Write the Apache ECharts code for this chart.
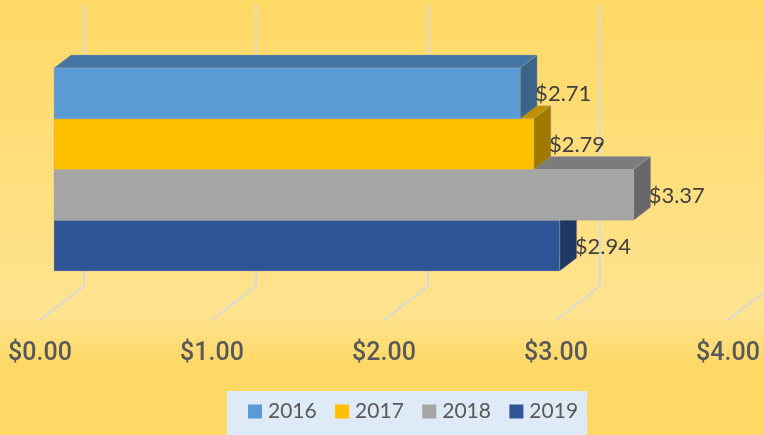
<!DOCTYPE html>
<html>
<head>
<meta charset="utf-8">
<style>
  html, body { margin: 0; padding: 0; }
  #chart { width: 764px; height: 435px; }
</style>
<script src="https://cdn.jsdelivr.net/npm/echarts@6/dist/echarts.min.js"></script>
</head>
<body>
<div id="chart"></div>
<script>
const years = ["2016", "2017", "2018", "2019"];
const values = [2.71, 2.79, 3.37, 2.94];
const ticks = [0, 1, 2, 3, 4];
const faceColors = ["#5B9BD5", "#FFC000", "#A5A5A5", "#2F5597"];
const topColors = ["#4475A3", "#BF9000", "#7C7C7C", "#274571"];
const sideColors = ["#3A6488", "#A07A00", "#686868", "#1F3864"];

// the grid is the floor's front edge, bars and walls sit further back
const barShift = 14;
const depthX = 17;
const depthY = 13;
const wallShift = 44;
const wallTop = 5;
const wallBottom = 286;
const floorFront = 320;

const chart = echarts.init(document.getElementById("chart"));

function renderBar(params, api) {
  const i = params.seriesIndex - 1;
  const end = api.coord([api.value(0), api.value(1)]);
  const start = api.coord([0, api.value(1)]);
  const band = api.size([0, 1])[1];
  const x0 = start[0] + barShift;
  const x1 = end[0] + barShift;
  const y0 = end[1] - band / 2;
  const y1 = end[1] + band / 2;
  const edge = { stroke: "rgba(170,170,170,0.35)", lineWidth: 1 };
  return {
    type: "group",
    children: [
      {
        type: "polygon",
        shape: { points: [[x0, y0], [x1, y0], [x1 + depthX, y0 - depthY], [x0 + depthX, y0 - depthY]] },
        style: { fill: topColors[i], ...edge },
      },
      {
        type: "polygon",
        shape: { points: [[x1, y0], [x1 + depthX, y0 - depthY], [x1 + depthX, y1 - depthY], [x1, y1]] },
        style: { fill: sideColors[i], ...edge },
      },
      {
        type: "rect",
        shape: { x: x0, y: y0, width: x1 - x0, height: y1 - y0 },
        style: { fill: faceColors[i], ...edge },
      },
      {
        type: "text",
        x: x1 + 15,
        y: end[1] + 1,
        style: {
          text: "$" + api.value(0).toFixed(2),
          fill: "#404040",
          font: "22px Lato",
          verticalAlign: "middle",
        },
      },
    ],
  };
}

function renderWall(params, api) {
  const x = api.coord([api.value(0), 0])[0];
  return {
    type: "polyline",
    shape: {
      points: [[x + wallShift, wallTop], [x + wallShift, wallBottom], [x, floorFront]],
    },
    style: { fill: "none", stroke: "#D9D9D9", lineWidth: 2 },
  };
}

chart.setOption({
  animation: false,
  backgroundColor: new echarts.graphic.LinearGradient(0, 0, 0, 1, [
    { offset: 0, color: "#FFD966" },
    { offset: 0.72, color: "#FFE38F" },
    { offset: 0.84, color: "#FFD966" },
    { offset: 1, color: "#FFD966" },
  ]),
  grid: { left: 40, right: 36, top: 68, height: 203 },
  legend: {
    data: years,
    left: 227,
    top: 391,
    padding: [10, 9, 13, 21],
    itemGap: 18.4,
    itemWidth: 14,
    itemHeight: 14,
    icon: "rect",
    backgroundColor: "#DEEAF6",
    textStyle: { color: "#595959", fontFamily: "Lato", fontSize: 21, padding: [0, 0, 0, 1] },
  },
  xAxis: {
    type: "value",
    min: 0,
    max: 4,
    interval: 1,
    axisLine: { show: false },
    axisTick: { show: false },
    splitLine: { show: false },
    axisLabel: {
      margin: 70,
      color: "#595959",
      fontFamily: "Roboto",
      fontWeight: 500,
      fontSize: 25,
      formatter: (value) => `$${value.toFixed(2)}`,
    },
  },
  yAxis: {
    type: "category",
    inverse: true,
    data: years,
    axisLine: { show: false },
    axisTick: { show: false },
    axisLabel: { show: false },
  },
  series: [
    {
      name: "walls",
      type: "custom",
      z: 1,
      silent: true,
      renderItem: renderWall,
      data: ticks.map((tick) => [tick]),
      encode: { x: 0 },
    },
    ...years.map((year, i) => ({
      name: year,
      type: "custom",
      z: 10 - i,
      renderItem: renderBar,
      itemStyle: { color: faceColors[i] },
      data: [[values[i], i]],
      encode: { x: 0, y: 1 },
    })),
  ],
});
</script>
</body>
</html>
